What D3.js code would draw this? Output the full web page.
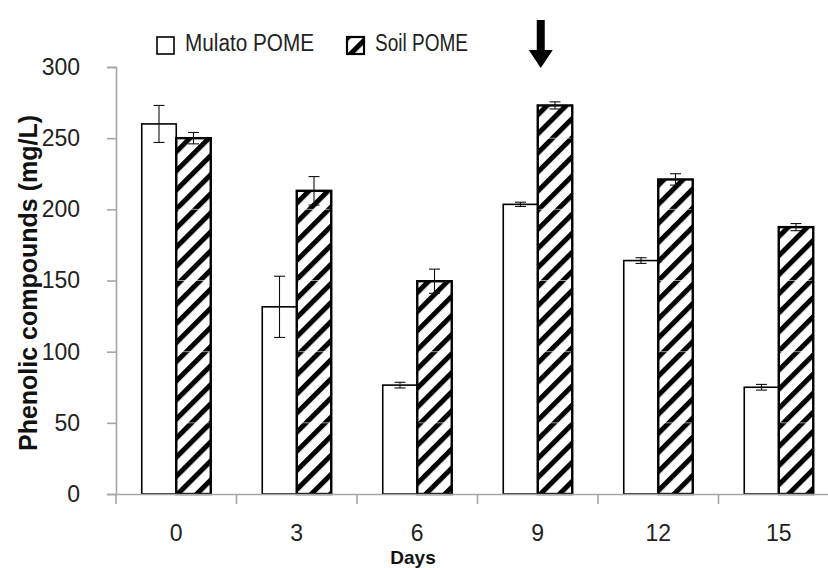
<!DOCTYPE html>
<html>
<head>
<meta charset="utf-8">
<script src="https://cdn.jsdelivr.net/npm/d3@7"></script>
<style>
  html, body { margin: 0; padding: 0; background: #fff; }
  svg { display: block; }
  .tick-label { font-family: "Liberation Sans", sans-serif; font-size: 23px; fill: #222; }
</style>
</head>
<body>
<svg id="chart" width="828" height="568"></svg>
<script>
// Sampling days
const days = ["0", "3", "6", "9", "12", "15"];
// Phenolic compounds (mg/L), mean and error
const mulato = [260, 131.5, 76.5, 203.5, 164, 75];
const mulatoErr = [13, 21.5, 2, 1.5, 2, 2];
const soil = [250, 213, 149.5, 273, 221, 187.5];
const soilErr = [4, 10, 8.5, 2.5, 4, 2.5];
const yTicks = [0, 50, 100, 150, 200, 250, 300];
const seriesNames = ["Mulato POME", "Soil POME"];
const highlightDay = "9";

const svg = d3.select("#chart");
const axisColor = "#a6a6a6";

const x = d3.scaleBand().domain(days).range([116, 839]);
const y = d3.scaleLinear().domain([0, 300]).range([494, 67]);
const barW = 34.5;

// diagonal hatch
const defs = svg.append("defs");
defs.append("pattern")
  .attr("id", "hatch")
  .attr("patternUnits", "userSpaceOnUse")
  .attr("width", 13.5).attr("height", 13.5)
  .attr("patternTransform", "rotate(45)")
  .append("rect")
  .attr("x", 0).attr("y", 0).attr("width", 5).attr("height", 13.5)
  .attr("fill", "#000");

const rows = days.map((d, i) => ({
  day: d,
  m: mulato[i], me: mulatoErr[i],
  s: soil[i], se: soilErr[i]
}));

const center = d => x(d) + x.bandwidth() / 2;

// bars
const g = svg.append("g");
g.selectAll("rect.mulato").data(rows).join("rect")
  .attr("class", "mulato")
  .attr("x", d => center(d.day) - barW)
  .attr("y", d => y(d.m))
  .attr("width", barW)
  .attr("height", d => y(0) - y(d.m))
  .attr("fill", "#fff")
  .attr("stroke", "#000")
  .attr("stroke-width", 1.6);

g.selectAll("rect.soil").data(rows).join("rect")
  .attr("class", "soil")
  .attr("x", d => center(d.day))
  .attr("y", d => y(d.s))
  .attr("width", barW)
  .attr("height", d => y(0) - y(d.s))
  .attr("fill", "url(#hatch)")
  .attr("stroke", "#000")
  .attr("stroke-width", 2.4);

// faint breaks across the hatching at each grid level
const levels = yTicks.filter(t => t > 0 && t < 300);
rows.forEach(d => {
  levels.filter(t => t < d.s - 3).forEach(t => {
    g.append("line")
      .attr("x1", center(d.day) + 1.5).attr("x2", center(d.day) + barW - 1.5)
      .attr("y1", y(t)).attr("y2", y(t))
      .attr("stroke", "#fff").attr("stroke-width", 1).attr("opacity", 0.6);
  });
});

// error bars
const cap = 5.5;
function errBars(cls, cx, val, err) {
  const eg = g.selectAll("g." + cls).data(rows).join("g").attr("class", cls);
  eg.append("line")
    .attr("x1", d => cx(d)).attr("x2", d => cx(d))
    .attr("y1", d => y(val(d) + err(d))).attr("y2", d => y(val(d) - err(d)));
  eg.append("line")
    .attr("x1", d => cx(d) - cap).attr("x2", d => cx(d) + cap)
    .attr("y1", d => y(val(d) + err(d))).attr("y2", d => y(val(d) + err(d)));
  eg.append("line")
    .attr("x1", d => cx(d) - cap).attr("x2", d => cx(d) + cap)
    .attr("y1", d => y(val(d) - err(d))).attr("y2", d => y(val(d) - err(d)));
  eg.selectAll("line").attr("stroke", "#111").attr("stroke-width", 1.1);
}
errBars("em", d => center(d.day) - barW / 2, d => d.m, d => d.me);
errBars("es", d => center(d.day) + barW / 2, d => d.s, d => d.se);

// y axis
const yAxis = d3.axisLeft(y).tickValues(yTicks).tickSize(9).tickPadding(27);
const ya = svg.append("g").attr("transform", "translate(116,0)").call(yAxis);
ya.select(".domain").attr("stroke", axisColor).attr("stroke-width", 1.6);
ya.selectAll(".tick line").attr("stroke", axisColor).attr("stroke-width", 1.6);
ya.selectAll(".tick text").attr("class", "tick-label").attr("font-family", null).attr("font-size", null);

// x axis: labels at band centers, ticks on band boundaries
const xAxis = d3.axisBottom(x).tickSize(0).tickPadding(31);
const xa = svg.append("g").attr("transform", "translate(0,494)").call(xAxis);
xa.select(".domain").attr("stroke", axisColor).attr("stroke-width", 1.6);
xa.selectAll(".tick text").attr("class", "tick-label").attr("font-family", null).attr("font-size", null);
xa.selectAll("line.bound").data(days).join("line")
  .attr("class", "bound")
  .attr("x1", d => x(d)).attr("x2", d => x(d))
  .attr("y1", 0).attr("y2", 10)
  .attr("stroke", axisColor).attr("stroke-width", 1.6);

// axis titles
svg.append("text")
  .attr("transform", "translate(37,283) rotate(-90)")
  .attr("text-anchor", "middle")
  .attr("font-family", '"Liberation Sans", sans-serif')
  .attr("font-weight", "bold")
  .attr("font-size", 25)
  .attr("fill", "#111")
  .text("Phenolic compounds (mg/L)");

svg.append("text")
  .attr("x", 413).attr("y", 564)
  .attr("text-anchor", "middle")
  .attr("font-family", '"Liberation Sans", sans-serif')
  .attr("font-weight", "bold")
  .attr("font-size", 19)
  .attr("fill", "#111")
  .text("Days");

// legend
const legend = svg.append("g");
const legendItems = [
  { name: seriesNames[0], bx: 157, tx: 185, w: 129, fill: "#fff", sw: 1.6 },
  { name: seriesNames[1], bx: 347, tx: 375, w: 93, fill: "url(#hatch)", sw: 2.2 }
];
legendItems.forEach(it => {
  legend.append("rect")
    .attr("x", it.bx).attr("y", 37).attr("width", 17).attr("height", 17)
    .attr("fill", it.fill).attr("stroke", "#000").attr("stroke-width", it.sw);
  legend.append("text")
    .attr("x", it.tx).attr("y", 51)
    .attr("class", "tick-label")
    .attr("font-size", 24)
    .attr("textLength", it.w)
    .attr("lengthAdjust", "spacingAndGlyphs")
    .text(it.name);
});

// arrow marking day 9
const ax = center(highlightDay) + 3;
svg.append("rect")
  .attr("x", ax - 4).attr("y", 20).attr("width", 8).attr("height", 32)
  .attr("fill", "#000");
svg.append("path")
  .attr("d", `M${ax - 12},50 L${ax + 12},50 L${ax},68 Z`)
  .attr("fill", "#000");
</script>
</body>
</html>
